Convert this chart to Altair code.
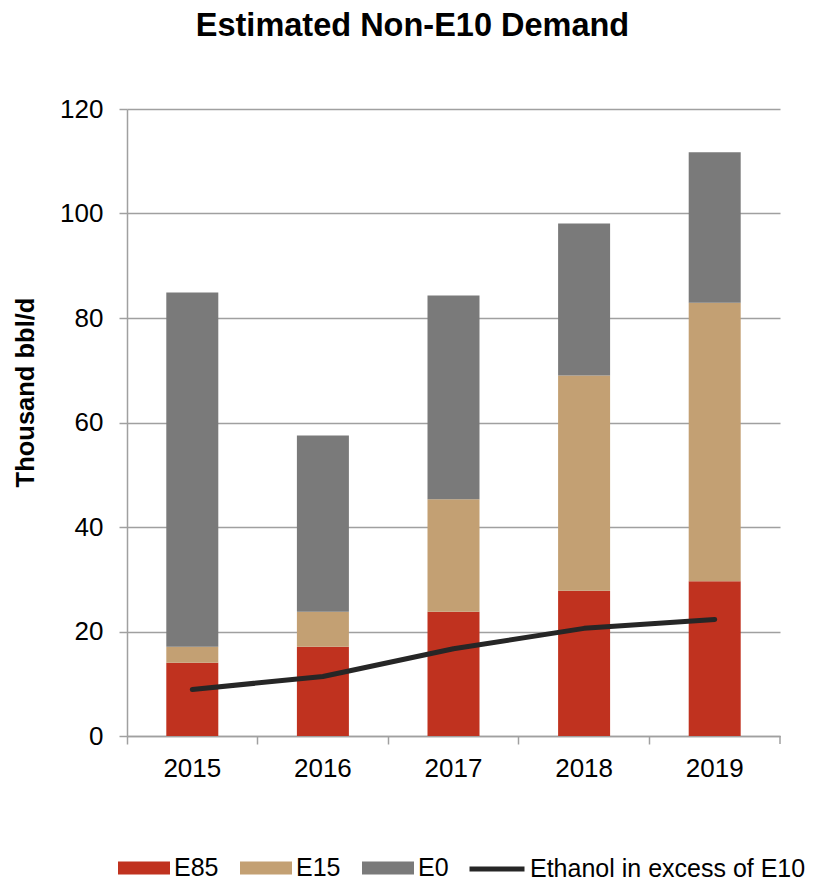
import altair as alt
import pandas as pd

years = ["2015", "2016", "2017", "2018", "2019"]
e85 = [14.0, 17.1, 23.8, 27.8, 29.6]
e15 = [3.1, 6.7, 21.5, 41.2, 53.3]
e0 = [67.8, 33.7, 39.0, 29.1, 28.8]
ethanol = [8.9, 11.4, 16.7, 20.6, 22.3]

fuels = ["E85", "E15", "E0"]
fuel_colors = ["#C0321F", "#C3A073", "#7A7A7A"]
line_name = "Ethanol in excess of E10"
line_color = "#262626"
y_ticks = [0, 20, 40, 60, 80, 100, 120]

rows = []
for i, y in enumerate(years):
    for k, (f, vals) in enumerate(zip(fuels, [e85, e15, e0])):
        rows.append({"year": y, "fuel": f, "value": vals[i], "order": k})
bars_df = pd.DataFrame(rows)
line_df = pd.DataFrame({"year": years, "value": ethanol, "series": [line_name] * len(years)})
end_df = pd.DataFrame({"year": [years[-1]]})

FONT = "Liberation Sans"
GRAY = "#A0A0A0"

x_enc = alt.X(
    "year:N",
    title=None,
    scale=alt.Scale(paddingInner=0, paddingOuter=0),
    axis=alt.Axis(
        bandPosition=0,
        labelAngle=0,
        labelFontSize=26,
        labelPadding=11,
        tickSize=8,
        grid=False,
    ),
)

y_enc = alt.Y(
    "value:Q",
    stack="zero",
    scale=alt.Scale(domain=[0, 120], nice=False),
    axis=alt.Axis(
        values=y_ticks,
        title="Thousand bbl/d",
        titleFontSize=25.5,
        titleFontWeight="bold",
        titleX=-94,
        titleY=283,
        titleBaseline="alphabetic",
        titleAlign="center",
        titleAngle=-90,
        labelFontSize=26,
        labelPadding=16,
        tickSize=8,
        grid=True,
    ),
)

bars = alt.Chart(bars_df).mark_bar(size=52).encode(
    x=x_enc,
    y=y_enc,
    color=alt.Color(
        "fuel:N",
        scale=alt.Scale(domain=fuels, range=fuel_colors),
        legend=alt.Legend(
            title=None,
            orient="none",
            direction="horizontal",
            legendX=-9,
            legendY=733,
            symbolType="M-1,-0.25H1V0.25H-1Z",
            symbolSize=2704,
            symbolStrokeWidth=0,
            labelOffset=4,
            columnPadding=21,
            padding=0,
        ),
    ),
    order=alt.Order("order:Q"),
)

line = alt.Chart(line_df).mark_line(strokeWidth=5, strokeCap="round", strokeJoin="round").encode(
    x=alt.X("year:N"),
    y=alt.Y("value:Q"),
    color=alt.Color(
        "series:N",
        scale=alt.Scale(domain=[line_name], range=[line_color]),
        legend=alt.Legend(
            title=None,
            orient="none",
            direction="horizontal",
            legendX=340,
            legendY=730,
            symbolType="stroke",
            symbolSize=3025,
            symbolStrokeWidth=5,
            labelOffset=3,
            labelLimit=400,
            padding=0,
        ),
    ),
)

end_tick = alt.Chart(end_df).mark_rule(color=GRAY, strokeWidth=1.5).encode(
    x=alt.X("year:N", bandPosition=1),
    y=alt.value(627),
    y2=alt.value(635),
)

chart = (
    alt.layer(bars, line, end_tick)
    .resolve_scale(color="independent")
    .properties(
        width=653,
        height=627,
        title=alt.TitleParams(
            "Estimated Non-E10 Demand",
            fontSize=32.5,
            fontWeight="bold",
            font=FONT,
            color="black",
            anchor="middle",
            frame="group",
            offset=54,
            dx=-41,
        ),
        autosize=alt.AutoSizeParams(type="none"),
        padding={"left": 119, "top": 101, "right": 35, "bottom": 145},
    )
    .configure_view(stroke=None)
    .configure_axis(
        domainColor=GRAY,
        domainWidth=1.5,
        gridColor=GRAY,
        gridWidth=1.5,
        tickColor=GRAY,
        tickWidth=1.5,
        labelFont=FONT,
        titleFont=FONT,
        labelColor="black",
        titleColor="black",
    )
    .configure_legend(
        labelFont=FONT,
        labelFontSize=25,
        labelColor="black",
        labelLimit=400,
    )
)

chart.save("out.html", embed_options={"renderer": "svg", "actions": False})
